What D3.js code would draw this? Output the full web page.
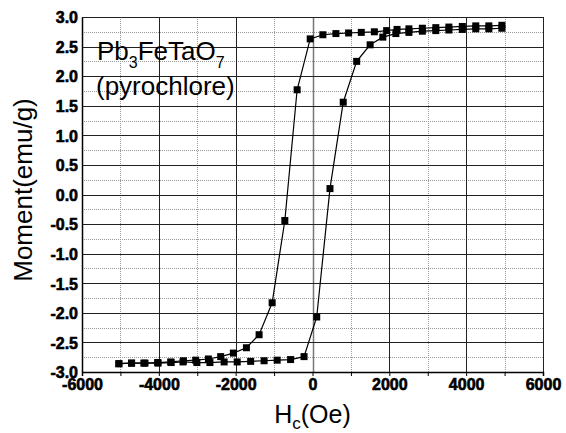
<!DOCTYPE html>
<html>
<head>
<meta charset="utf-8">
<script src="https://cdn.jsdelivr.net/npm/d3@7/dist/d3.min.js"></script>
<style>
  body { margin:0; background:#fff; }
  svg { display:block; font-family:"Liberation Sans", Arial, sans-serif; }
  text.tk { font-family:"Liberation Sans", Arial, sans-serif; font-size:16px; font-weight:bold; fill:#000; stroke:#000; stroke-width:0.6px; }
</style>
</head>
<body>
<div id="chart"></div>
<script>
// descending branch (field swept from +5000 to -5000)
var downH = [4930,4590,4250,3900,3550,3210,2860,2510,2200,1930,1610,1270,940,610,270,-60,-400,-720,-1050,-1390,-1720,-2060,-2390,-2710,-3040,-3360,-3690,-4030,-4360,-4710,-5040];
var downM = [2.86,2.85,2.85,2.84,2.83,2.82,2.81,2.80,2.79,2.77,2.75,2.74,2.73,2.72,2.70,2.63,1.77,-0.44,-1.83,-2.37,-2.59,-2.68,-2.74,-2.78,-2.80,-2.81,-2.83,-2.84,-2.85,-2.85,-2.86];
// ascending branch (field swept from -5000 to +5000)
var upH = [-5040,-4710,-4390,-4020,-3680,-3370,-3010,-2670,-2300,-1960,-1610,-1260,-920,-570,-220,110,455,800,1150,1500,1830,2170,2510,2860,3210,3550,3900,4250,4590,4930];
var upM = [-2.86,-2.85,-2.85,-2.85,-2.84,-2.83,-2.84,-2.84,-2.83,-2.83,-2.82,-2.81,-2.80,-2.79,-2.74,-2.07,0.10,1.56,2.25,2.53,2.66,2.72,2.74,2.76,2.77,2.78,2.79,2.80,2.80,2.81];

var xTicks = [-6000,-4000,-2000,0,2000,4000,6000];
var yTicks = [-3.0,-2.5,-2.0,-1.5,-1.0,-0.5,0.0,0.5,1.0,1.5,2.0,2.5,3.0];

var W = 566, H = 433;
var m = {t:17, r:23, b:61, l:82},
    w = W - m.l - m.r,
    h = H - m.t - m.b;

var svg = d3.select("#chart").append("svg")
  .attr("width", W).attr("height", H);

var x = d3.scaleLinear().domain([-6000, 6000]).range([0, w]);
var y = d3.scaleLinear().domain([-3, 3]).range([h, 0]);

var g = svg.append("g")
  .attr("transform", "translate(" + m.l + "," + m.t + ")");

// minor grid (dotted)
g.append("g").selectAll("line")
  .data(d3.range(-5000, 6000, 2000))
  .enter().append("line")
  .attr("x1", function(d){ return Math.round(x(d)) + 0.5; })
  .attr("x2", function(d){ return Math.round(x(d)) + 0.5; })
  .attr("y1", 0).attr("y2", h)
  .attr("stroke", "#999").attr("stroke-dasharray", "1,1");

g.append("g").selectAll("line")
  .data(d3.range(-2.75, 3, 0.5))
  .enter().append("line")
  .attr("y1", function(d){ return Math.round(y(d)) + 0.5; })
  .attr("y2", function(d){ return Math.round(y(d)) + 0.5; })
  .attr("x1", 0).attr("x2", w)
  .attr("stroke", "#999").attr("stroke-dasharray", "1,1");

// major grid (solid)
g.append("g").selectAll("line")
  .data(xTicks)
  .enter().append("line")
  .attr("x1", function(d){ return Math.round(x(d)) + 0.5; })
  .attr("x2", function(d){ return Math.round(x(d)) + 0.5; })
  .attr("y1", 0).attr("y2", h)
  .attr("stroke", function(d){ return d == 0 ? "#777" : "#222"; })
  .attr("stroke-width", function(d){ return d == 0 ? 1.5 : 1; });

g.append("g").selectAll("line")
  .data(yTicks)
  .enter().append("line")
  .attr("y1", function(d){ return Math.round(y(d)) + 0.5; })
  .attr("y2", function(d){ return Math.round(y(d)) + 0.5; })
  .attr("x1", 0).attr("x2", w)
  .attr("stroke", "#222");

// axes
var hyphen = function(s){ return s.replace("\u2212", "-"); };
var axisX = d3.axisBottom(x).ticks(12).tickSize(4).tickPadding(3)
  .tickFormat(function(d){ return xTicks.indexOf(d) >= 0 ? hyphen(d3.format("d")(d)) : ""; });
var axisY = d3.axisLeft(y).tickValues(yTicks).tickSize(0).tickPadding(4)
  .tickFormat(function(d){ return hyphen(d3.format(".1f")(d)); });

var gx = g.append("g")
  .attr("transform", "translate(0," + h + ")")
  .call(axisX);
gx.attr("font-family", null).attr("font-size", null);
gx.select(".domain").attr("stroke", "#000").attr("stroke-width", 1.5);
gx.selectAll(".tick line").attr("stroke", "#000");
gx.selectAll("text").attr("class", "tk").attr("dy", "0.71em");

var gy = g.append("g")
  .call(axisY);
gy.attr("font-family", null).attr("font-size", null);
gy.select(".domain").attr("stroke", "#000").attr("stroke-width", 1.5);
gy.selectAll("text").attr("class", "tk").attr("dy", "0.36em");

// data
var down = downH.map(function(d, i){ return {h:d, m:downM[i]}; });
var up = upH.map(function(d, i){ return {h:d, m:upM[i]}; });

var line = d3.line()
  .x(function(d){ return x(d.h); })
  .y(function(d){ return y(d.m); });

[down, up].forEach(function(series){
  g.append("path")
    .datum(series)
    .attr("d", line)
    .attr("fill", "none")
    .attr("stroke", "#000")
    .attr("stroke-width", 1.2);

  g.append("g").selectAll("rect")
    .data(series)
    .enter().append("rect")
    .attr("x", function(d){ return x(d.h) - 3.5; })
    .attr("y", function(d){ return y(d.m) - 3.5; })
    .attr("width", 7).attr("height", 7)
    .attr("fill", "#000");
});

// sample label
var lab = svg.append("text")
  .attr("x", 97).attr("y", 60)
  .attr("font-size", "26px").attr("fill", "#000");
lab.append("tspan").text("Pb");
lab.append("tspan").text("3").attr("font-size", "16px").attr("dy", 8);
lab.append("tspan").text("FeTaO").attr("dy", -8);
lab.append("tspan").text("7").attr("font-size", "16px").attr("dy", 8);

svg.append("text")
  .attr("x", 96).attr("y", 95)
  .attr("font-size", "26px").attr("fill", "#000")
  .text("(pyrochlore)");

// axis titles
svg.append("text")
  .attr("transform", "translate(32,190) rotate(-90)")
  .attr("text-anchor", "middle")
  .attr("font-size", "26px").attr("fill", "#000")
  .text("Moment(emu/g)");

var xt = svg.append("text")
  .attr("x", m.l + x(0)).attr("y", 423)
  .attr("text-anchor", "middle")
  .attr("font-size", "25px").attr("fill", "#000");
xt.append("tspan").text("H");
xt.append("tspan").text("c").attr("font-size", "17px").attr("dy", 6);
xt.append("tspan").text("(Oe)").attr("dy", -6);
</script>
</body>
</html>
